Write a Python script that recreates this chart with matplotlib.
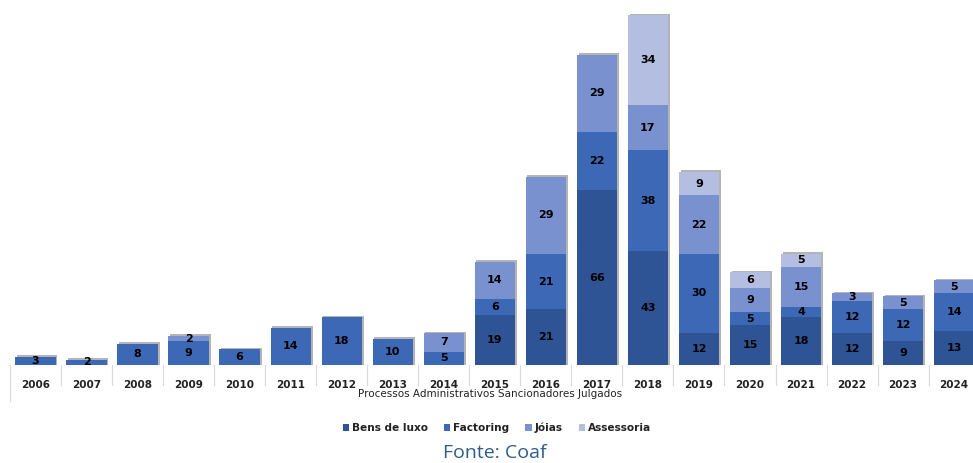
import numpy as np
import matplotlib.pyplot as plt
from matplotlib.patches import Rectangle

# Dados
anos = ['2006', '2007', '2008', '2009', '2010', '2011', '2012', '2013', '2014', '2015',
        '2016', '2017', '2018', '2019', '2020', '2021', '2022', '2023', '2024']
bens_de_luxo = [0, 0, 0, 0, 0, 0, 0, 0, 0, 19, 21, 66, 43, 12, 15, 18, 12, 9, 13]
factoring = [3, 2, 8, 9, 6, 14, 18, 10, 5, 6, 21, 22, 38, 30, 5, 4, 12, 12, 14]
joias = [0, 0, 0, 2, 0, 0, 0, 0, 7, 14, 29, 29, 17, 22, 9, 15, 3, 5, 5]
assessoria = [0, 0, 0, 0, 0, 0, 0, 0, 0, 0, 0, 0, 34, 9, 6, 5, 0, 0, 0]

series = [('Bens de luxo', bens_de_luxo, '#2F5496'),
          ('Factoring', factoring, '#3C68B5'),
          ('Jóias', joias, '#7A91CF'),
          ('Assessoria', assessoria, '#B3BEE0')]

fig = plt.figure(figsize=(9.73, 4.63), dpi=100)
ax = fig.add_axes([10 / 973, (463 - 365) / 463, 963 / 973, 355 / 463])

x = np.arange(len(anos))
largura = 0.79
totais = np.sum([s[1] for s in series], axis=0)

# sombra suave das barras
for xi, t in zip(x, totais):
    ax.add_patch(Rectangle((xi - largura / 2 + 0.035, 0), largura, t + 0.6,
                           facecolor='#b4b4b4', edgecolor='none', zorder=1))

base = np.zeros(len(anos))
for nome, vals, cor in series:
    vals = np.array(vals)
    ax.bar(x, vals, largura, bottom=base, color=cor, label=nome, zorder=2)
    for xi, b, v in zip(x, base, vals):
        if v > 0:
            ax.text(xi, b + v / 2, str(v), ha='center', va='center',
                    fontsize=8, fontweight='bold', color='black', zorder=3)
    base += vals

ax.set_xlim(-0.5, 18.37)
ax.set_ylim(0, 134)
ax.axis('off')

# tabela de anos
for xi, ano in zip(x, anos):
    ax.text(xi, -7.5, ano, ha='center', va='center', fontsize=7.5,
            fontweight='bold', color='#222222', clip_on=False)
for xb in np.arange(0.5, 18.6, 1):
    ax.plot([xb, xb], [0, -7.5], color='#d9d9d9', lw=0.8, clip_on=False, zorder=0)
ax.plot([-0.5, -0.5], [0, -13.5], color='#d9d9d9', lw=0.8, clip_on=False)
ax.axhline(0, color='#d9d9d9', lw=0.8, zorder=0)

fig.text(490 / 973, 1 - 394 / 463, 'Processos Administrativos Sancionadores Julgados',
         ha='center', va='center', fontsize=7.5, color='#222222')

leg = fig.legend(loc='center', bbox_to_anchor=(497 / 973, 1 - 428 / 463), ncol=4,
                 frameon=False, fontsize=7.6, handlelength=0.6, handleheight=0.6,
                 handletextpad=0.3, columnspacing=1.5)
for t in leg.get_texts():
    t.set_fontweight('bold')
    t.set_color('#222222')

fig.text(495 / 973, 1 - 453 / 463, 'Fonte: Coaf', ha='center', va='center',
         fontsize=14, color='#2E5D8A', family='Open Sans')

plt.savefig('out.png', dpi=100)
